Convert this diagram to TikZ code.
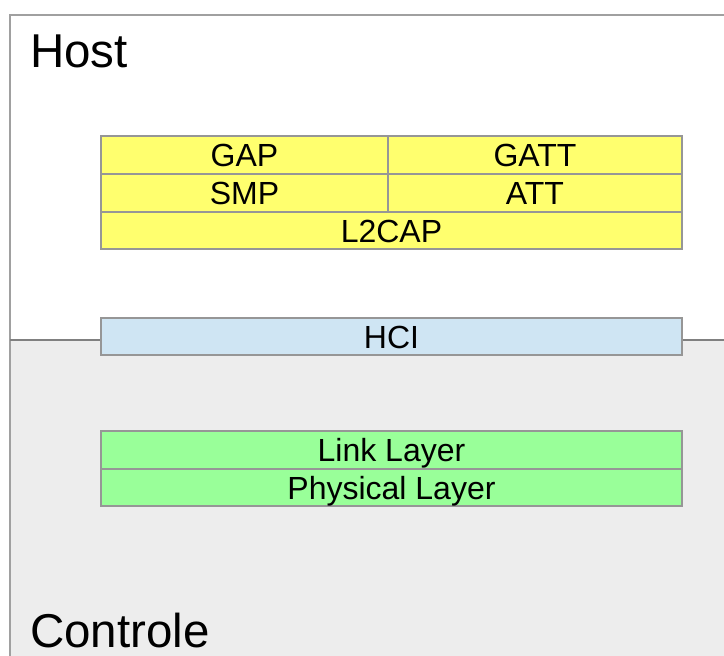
\documentclass[tikz,border=0pt]{standalone}
\usepackage{fontspec}
\setmainfont{Liberation Sans}
\definecolor{regionline}{HTML}{A0A0A0}
\definecolor{divider}{HTML}{808080}
\definecolor{ctrlfill}{HTML}{EDEDED}
\definecolor{boxline}{HTML}{969696}
\definecolor{hostyellow}{HTML}{FFFF6E}
\definecolor{hciblue}{HTML}{CFE5F3}
\definecolor{llgreen}{HTML}{99FF99}
\tikzset{
  % text height = cap height, so capitals sit in the middle of each box
  layerbox/.style={draw=boxline, line width=1.2pt, minimum height=38pt, inner sep=0pt,
                   text height=23pt, text depth=0pt,
                   font=\fontsize{32}{33}\selectfont, anchor=center},
  hostbox/.style={layerbox, fill=hostyellow},
  hcibox/.style={layerbox, fill=hciblue},
  ctrlbox/.style={layerbox, fill=llgreen},
  regiontitle/.style={font=\fontsize{47.5}{50}\selectfont, anchor=base west, inner sep=0pt}
}
\begin{document}
\begin{tikzpicture}[x=1pt,y=-1pt]
  \useasboundingbox (0,0) rectangle (724,656);
  % host and controller regions
  \fill[white] (10,15) rectangle (730,340);
  \fill[ctrlfill] (10,340) rectangle (730,660);
  \draw[regionline, line width=1.2pt] (10,660) -- (10,15) -- (730,15);
  \draw[divider, line width=1.2pt] (10,340) -- (730,340);
  \node[regiontitle] (host) at (30,67) {Host};
  \node[regiontitle] (ctrl) at (30,647) {Controle};
  % host stack
  \node[hostbox, minimum width=287pt] (gap)  at (244.5,155) {GAP};
  \node[hostbox, minimum width=294pt] (gatt) at (535,155) {GATT};
  \node[hostbox, minimum width=287pt] (smp)  at (244.5,193) {SMP};
  \node[hostbox, minimum width=294pt] (att)  at (535,193) {ATT};
  \node[hostbox, minimum width=581pt, minimum height=37pt] (l2cap) at (391.5,230.5) {L2CAP};
  % interface
  \node[hcibox, minimum width=581pt, minimum height=37pt] (hci) at (391.5,336.5) {HCI};
  % controller stack
  \node[ctrlbox, minimum width=581pt] (ll)  at (391.5,450) {Link Layer};
  \node[ctrlbox, minimum width=581pt, minimum height=37pt] (phy) at (391.5,487.5) {Physical Layer};
\end{tikzpicture}
\end{document}
